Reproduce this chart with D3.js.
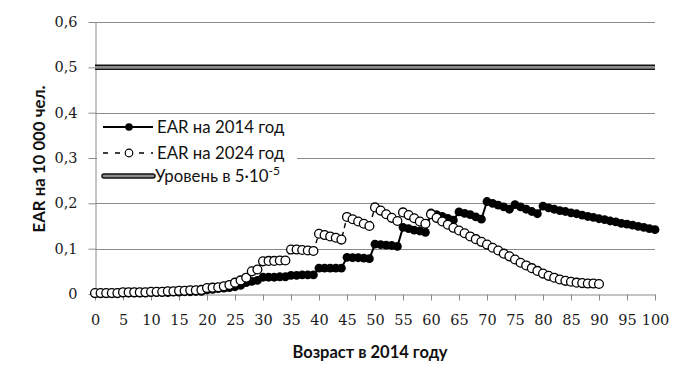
<!DOCTYPE html>
<html><head><meta charset="utf-8">
<script src="https://cdn.jsdelivr.net/npm/d3@7"></script>
<style>body{margin:0;background:#fff}</style>
</head><body>
<svg id="c" width="692" height="383"></svg>
<script>
// ---- data ----
const ages2014 = d3.range(0, 101);
const ear2014 = [
  0.001,0.001,0.001,0.001,0.001,
  0.002,0.002,0.002,0.002,0.002,
  0.003,0.003,0.003,0.003,0.004,
  0.004,0.005,0.005,0.006,0.006,
  0.009,0.010,0.012,0.013,0.014,
  0.016,0.019,0.025,0.028,0.030,
  0.037,0.037,0.037,0.038,0.038,
  0.041,0.041,0.042,0.042,0.042,
  0.057,0.057,0.057,0.057,0.057,
  0.081,0.080,0.080,0.079,0.078,
  0.110,0.109,0.108,0.107,0.105,
  0.147,0.144,0.141,0.139,0.136,
  0.179,0.175,0.171,0.167,0.163,
  0.181,0.178,0.175,0.170,0.165,
  0.204,0.200,0.196,0.192,0.187,
  0.197,0.192,0.187,0.182,0.177,
  0.194,0.190,0.187,0.184,0.182,
  0.179,0.177,0.174,0.171,0.169,
  0.166,0.164,0.161,0.159,0.156,
  0.154,0.152,0.149,0.147,0.144,
  0.142
];
const ages2024 = d3.range(0, 91);
const ear2024 = [
  0.002,0.002,0.002,0.002,0.002,
  0.004,0.004,0.004,0.004,0.004,
  0.005,0.005,0.005,0.006,0.006,
  0.007,0.007,0.008,0.008,0.009,
  0.013,0.014,0.015,0.017,0.020,
  0.025,0.030,0.036,0.050,0.054,
  0.072,0.073,0.073,0.074,0.074,
  0.098,0.098,0.097,0.096,0.095,
  0.133,0.130,0.127,0.124,0.120,
  0.170,0.165,0.160,0.155,0.150,
  0.191,0.184,0.176,0.168,0.161,
  0.180,0.174,0.167,0.160,0.155,
  0.176,0.168,0.160,0.153,0.146,
  0.140,0.134,0.127,0.121,0.115,
  0.109,0.102,0.096,0.089,0.083,
  0.076,0.069,0.063,0.057,0.051,
  0.045,0.040,0.036,0.032,0.029,
  0.027,0.025,0.024,0.023,0.023,
  0.022
];
const levelValue = 0.5;
const yTicks = [0, 0.1, 0.2, 0.3, 0.4, 0.5, 0.6];
const yTickLabels = ["0", "0,1", "0,2", "0,3", "0,4", "0,5", "0,6"];
const xTicks = [0,5,10,15,20,25,30,35,40,45,50,55,60,65,70,75,80,85,90,95,100];
const xTickLabels = ["0","5","10","15","20","25","30","35","40","45","50","55","60","65","70","75","80","85","90","95","100"];
const legendNames = ["EAR на 2014 год", "EAR на 2024 год", "Уровень в 5·10"];
const yTitle = "EAR на 10 000 чел.";
const xTitle = "Возраст в 2014 году";

// ---- chart ----
const svg = d3.select("#c");
const x = d3.scaleLinear().domain([0, 100]).range([95, 655]);
const y = d3.scaleLinear().domain([0, 0.6]).range([294, 22]);
const gridColor = "#8a8a8a";
const tickFont = "'DejaVu Serif', serif";
const sansFont = "Lato, 'Open Sans', sans-serif";

// gridlines
svg.append("g").selectAll("line").data(yTicks.filter(d => d > 0)).join("line")
  .attr("x1", x(0)).attr("x2", x(100))
  .attr("y1", d => Math.round(y(d)) + 0.5).attr("y2", d => Math.round(y(d)) + 0.5)
  .attr("stroke", gridColor).attr("stroke-width", 1);

// y axis
const yAxis = svg.append("g").attr("transform", "translate(95.5,0)")
  .call(d3.axisLeft(y).tickValues(yTicks).tickFormat((d, i) => yTickLabels[i]).tickSize(7).tickSizeOuter(0).tickPadding(11));
yAxis.select(".domain").attr("stroke", gridColor);
yAxis.selectAll(".tick line").attr("stroke", gridColor);
yAxis.selectAll(".tick text").attr("font-family", tickFont).attr("font-size", 14.5).attr("fill", "#1a1a1a");

// x axis
const xAxis = svg.append("g").attr("transform", "translate(0,294.5)")
  .call(d3.axisBottom(x).tickValues(xTicks).tickFormat((d, i) => xTickLabels[i]).tickSize(6).tickSizeOuter(0).tickPadding(14));
xAxis.select(".domain").attr("stroke", gridColor);
xAxis.selectAll(".tick line").attr("stroke", gridColor);
xAxis.selectAll(".tick text").attr("font-family", tickFont).attr("font-size", 14.5).attr("fill", "#1a1a1a");

// level line
svg.append("line").attr("x1", x(0)).attr("x2", x(100)).attr("y1", y(levelValue)).attr("y2", y(levelValue))
  .attr("stroke", "#111").attr("stroke-width", 5.5);
svg.append("line").attr("x1", x(0)).attr("x2", x(100)).attr("y1", y(levelValue)).attr("y2", y(levelValue))
  .attr("stroke", "#8c8c8c").attr("stroke-width", 2.6);

// series
const d2014 = ages2014.map((a, i) => [a, ear2014[i]]);
const d2024 = ages2024.map((a, i) => [a, ear2024[i]]);
const line = d3.line().x(d => x(d[0])).y(d => y(d[1]));

svg.append("path").datum(d2014).attr("d", line).attr("fill", "none").attr("stroke", "#000").attr("stroke-width", 2);
svg.append("g").selectAll("circle").data(d2014).join("circle")
  .attr("cx", d => x(d[0])).attr("cy", d => y(d[1])).attr("r", 4.4).attr("fill", "#000");

svg.append("path").datum(d2024).attr("d", line).attr("fill", "none").attr("stroke", "#000").attr("stroke-width", 1.4).attr("stroke-dasharray", "5,4");
svg.append("g").selectAll("circle").data(d2024).join("circle")
  .attr("cx", d => x(d[0])).attr("cy", d => y(d[1])).attr("r", 4.4)
  .attr("fill", "#fff").attr("stroke", "#000").attr("stroke-width", 1.3);

// legend
const lg = svg.append("g");
lg.append("rect").attr("x", 97).attr("y", 116).attr("width", 200).attr("height", 72).attr("fill", "#fff");
const rows = [127, 153, 176];
lg.append("line").attr("x1", 103).attr("x2", 153).attr("y1", rows[0]).attr("y2", rows[0]).attr("stroke", "#000").attr("stroke-width", 1.8);
lg.append("circle").attr("cx", 129).attr("cy", rows[0]).attr("r", 3.8).attr("fill", "#000");
lg.append("line").attr("x1", 103).attr("x2", 153).attr("y1", rows[1]).attr("y2", rows[1]).attr("stroke", "#000").attr("stroke-width", 1.4).attr("stroke-dasharray", "5,7");
lg.append("circle").attr("cx", 129).attr("cy", rows[1]).attr("r", 3.8).attr("fill", "#fff").attr("stroke", "#000").attr("stroke-width", 1.2);
lg.append("line").attr("x1", 104).attr("x2", 153).attr("y1", rows[2]).attr("y2", rows[2]).attr("stroke", "#111").attr("stroke-width", 5.5).attr("stroke-linecap", "round");
lg.append("line").attr("x1", 104).attr("x2", 153).attr("y1", rows[2]).attr("y2", rows[2]).attr("stroke", "#8c8c8c").attr("stroke-width", 2.6).attr("stroke-linecap", "round");

const lt = lg.selectAll("text.lt").data(legendNames).join("text").attr("class", "lt")
  .attr("x", (d, i) => i === 2 ? 155 : 157).attr("y", (d, i) => rows[i] + 6)
  .attr("font-family", sansFont).attr("font-size", 16.8).attr("fill", "#111")
  .text(d => d);
lt.filter((d, i) => i === 2).append("tspan").attr("dy", -7).attr("font-size", 12).text("-5");

// titles
svg.append("text").attr("transform", "translate(45,159) rotate(-90)").attr("text-anchor", "middle")
  .attr("font-family", sansFont).attr("font-weight", "bold").attr("font-size", 16.8).attr("fill", "#111").text(yTitle);
svg.append("text").attr("x", 370).attr("y", 358).attr("text-anchor", "middle")
  .attr("font-family", sansFont).attr("font-weight", "bold").attr("font-size", 16.5).attr("fill", "#111").text(xTitle);
</script>
</body></html>
